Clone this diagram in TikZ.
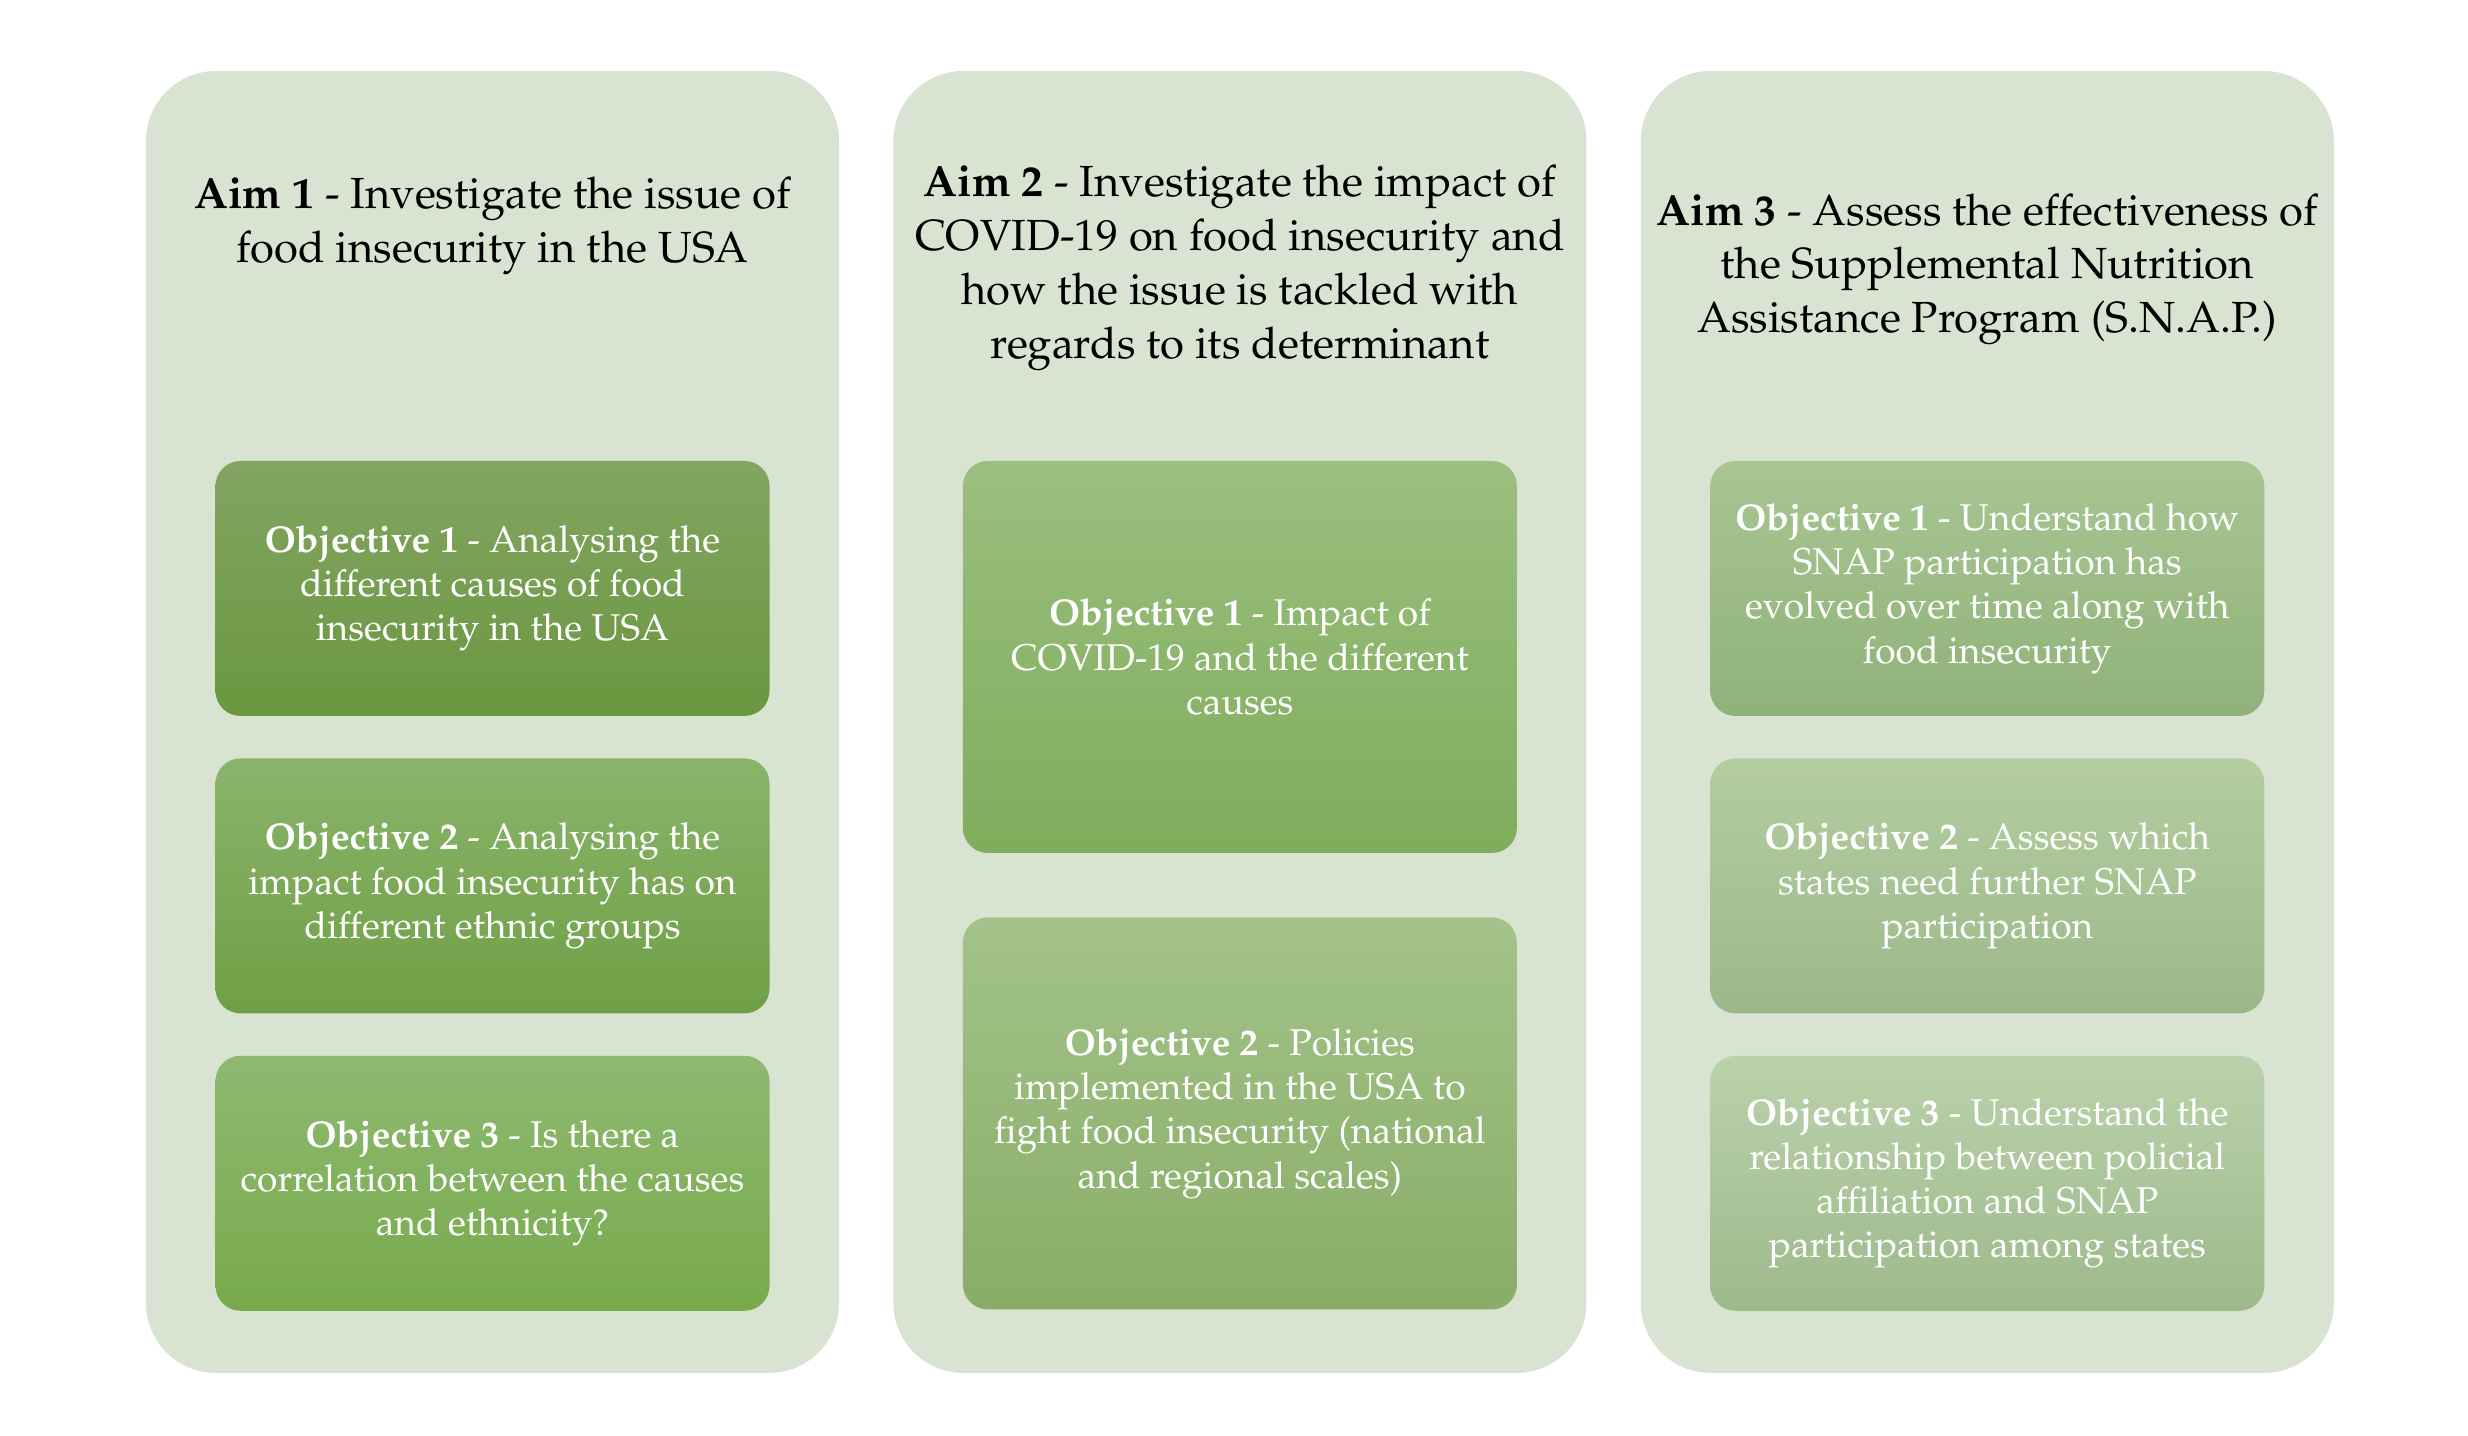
\documentclass[tikz,border=0pt]{standalone}
\usepackage[T1]{fontenc}
\usepackage{mathpazo}
\usetikzlibrary{positioning, calc}
\definecolor{panelbg}{HTML}{D8E3D1}
\definecolor{aimatop}{HTML}{82A562}
\definecolor{aimabot}{HTML}{6A973F}
\definecolor{aimbtop}{HTML}{8AB46B}
\definecolor{aimbbot}{HTML}{6F9F45}
\definecolor{aimctop}{HTML}{8EB970}
\definecolor{aimcbot}{HTML}{78AA4C}
\definecolor{covatop}{HTML}{9BBF7F}
\definecolor{covabot}{HTML}{7FAD5B}
\definecolor{covbtop}{HTML}{A3C38A}
\definecolor{covbbot}{HTML}{88AD66}
\definecolor{snapatop}{HTML}{A8C592}
\definecolor{snapabot}{HTML}{90B27A}
\definecolor{snapbtop}{HTML}{B3CDA0}
\definecolor{snapbbot}{HTML}{9CB88A}
\definecolor{snapctop}{HTML}{BAD2AB}
\definecolor{snapcbot}{HTML}{9EB98C}

\begin{document}
\begin{tikzpicture}[
    aimpanel/.style={
        rectangle, rounded corners=0.7cm, fill=panelbg, draw=none,
        minimum width=6.93cm, minimum height=13.02cm, inner sep=0pt,
    },
    aimtitle/.style={
        align=center, inner sep=0pt, text=black,
        font=\fontsize{12.4}{15.3}\selectfont,
    },
    objbox/.style 2 args={
        rectangle, rounded corners=0.25cm, top color=#1, bottom color=#2,
        draw=none, minimum width=5.54cm, minimum height=2.55cm,
        inner sep=0pt, align=center, text=white,
        font=\fontsize{10.6}{12.6}\selectfont,
    },
]

\useasboundingbox[fill=white] (0,0) rectangle (24.68,14.36);

% --- Aim panels ---
\node[aimpanel] (aim1) at (4.925,7.14) {};
\node[aimpanel, right=0.53cm of aim1] (aim2) {};
\node[aimpanel, right=0.53cm of aim2] (aim3) {};

% --- Aim titles ---
\node[aimtitle] (aim1title) at ($(aim1.north)+(0,-1.555)$)
    {\textbf{Aim 1} - Investigate the issue of\\food insecurity in the USA};
\node[aimtitle] (aim2title) at ($(aim2.north)+(0,-1.975)$)
    {\textbf{Aim 2} - Investigate the impact of\\COVID-19 on food insecurity and\\
     how the issue is tackled with\\regards to its determinant};
\node[aimtitle] (aim3title) at ($(aim3.north)+(0,-1.99)$)
    {\textbf{Aim 3} - Assess the effectiveness of\\the Supplemental Nutrition\\
     Assistance Program (S.N.A.P.)};

% --- Objectives of Aim 1 ---
\node[objbox={aimatop}{aimabot}, anchor=north] (obj11)
    at ($(aim1.north)+(0,-3.90)$)
    {\textbf{Objective 1} - Analysing the\\different causes of food\\insecurity in the USA};
\node[objbox={aimbtop}{aimbbot}, below=0.41cm of obj11] (obj12)
    {\textbf{Objective 2} - Analysing the\\impact food insecurity has on\\different ethnic groups};
\node[objbox={aimctop}{aimcbot}, below=0.41cm of obj12] (obj13)
    {\textbf{Objective 3} - Is there a\\correlation between the causes\\and ethnicity?};

% --- Objectives of Aim 2 ---
\node[objbox={covatop}{covabot}, minimum height=3.92cm, anchor=north] (obj21)
    at ($(aim2.north)+(0,-3.90)$)
    {\textbf{Objective 1} - Impact of\\COVID-19 and the different\\causes};
\node[objbox={covbtop}{covbbot}, minimum height=3.92cm, below=0.63cm of obj21] (obj22)
    {\textbf{Objective 2} - Policies\\implemented in the USA to\\
     fight food insecurity (national\\and regional scales)};

% --- Objectives of Aim 3 ---
\node[objbox={snapatop}{snapabot}, anchor=north] (obj31)
    at ($(aim3.north)+(0,-3.90)$)
    {\textbf{Objective 1} - Understand how\\SNAP participation has\\
     evolved over time along with\\food insecurity};
\node[objbox={snapbtop}{snapbbot}, below=0.41cm of obj31] (obj32)
    {\textbf{Objective 2} - Assess which\\states need further SNAP\\participation};
\node[objbox={snapctop}{snapcbot}, below=0.41cm of obj32] (obj33)
    {\textbf{Objective 3} - Understand the\\relationship between policial\\
     affiliation and SNAP\\participation among states};

\end{tikzpicture}
\end{document}
